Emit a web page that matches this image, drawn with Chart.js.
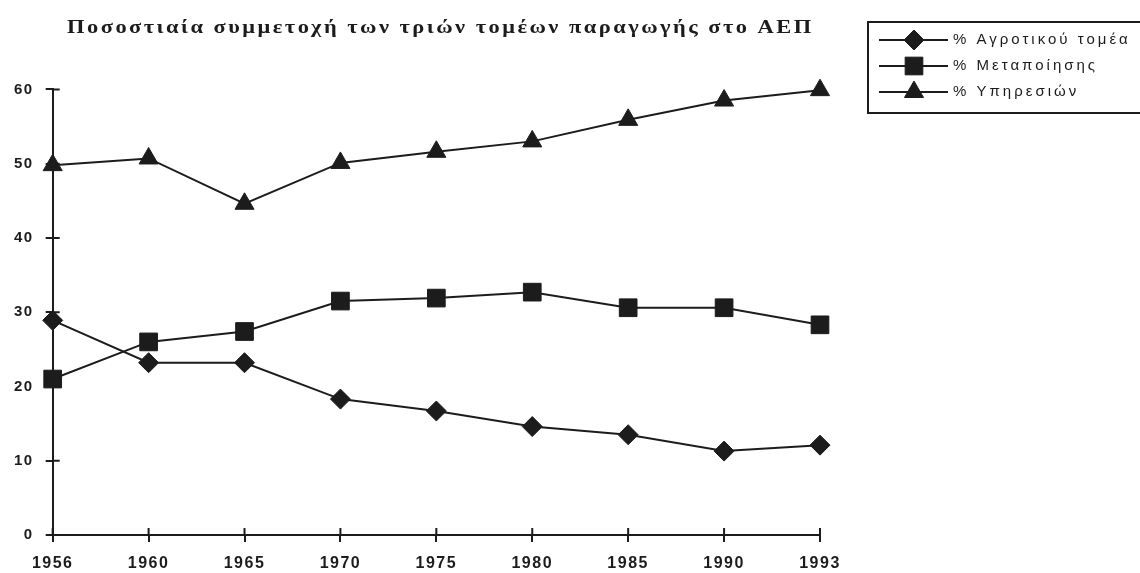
<!DOCTYPE html>
<html>
<head>
<meta charset="utf-8">
<script src="https://cdn.jsdelivr.net/npm/chart.js"></script>
<style>
  html, body { margin: 0; padding: 0; background: #fff; overflow: hidden; }
  #wrap { width: 1140px; height: 586px; }
</style>
</head>
<body>
<div id="wrap"><canvas id="chart"></canvas></div>
<script>
// data
const chartTitle = 'Ποσοστιαία συμμετοχή των τριών τομέων παραγωγής στο ΑΕΠ';
const years = ['1956', '1960', '1965', '1970', '1975', '1980', '1985', '1990', '1993'];
const seriesNames = ['% Αγροτικού τομέα', '% Μεταποίησης', '% Υπηρεσιών'];
const agriculture = [28.9, 23.2, 23.2, 18.3, 16.7, 14.6, 13.5, 11.3, 12.1];
const manufacturing = [21.0, 26.0, 27.4, 31.5, 31.9, 32.7, 30.6, 30.6, 28.3];
const services = [49.8, 50.7, 44.6, 50.1, 51.6, 53.0, 55.9, 58.5, 59.9];
const yTicks = [0, 10, 20, 30, 40, 50, 60];

const ink = '#1c1c1c';

function series(label, data, style, radius) {
    return {
        label: label,
        data: data,
        borderColor: ink,
        borderWidth: 2,
        backgroundColor: ink,
        pointStyle: style,
        pointRadius: radius,
        pointBackgroundColor: ink,
        pointBorderColor: ink,
        pointBorderWidth: 1,
        fill: false,
        clip: false,
        tension: 0
    };
}

// stretched, spaced title + letter spacing for the tick labels
const spacing = {
    id: 'spacing',
    afterInit(chart) {
        const tb = chart.titleBlock;
        const draw = tb.draw;
        tb.draw = function () {
            const ctx = this.ctx;
            const cx = (this.left + this.right) / 2;
            ctx.save();
            ctx.letterSpacing = '2px';
            ctx.translate(cx + 4, 0);
            ctx.scale(1.245, 1);
            ctx.translate(-cx, 0);
            draw.call(this);
            ctx.restore();
        };
    },
    beforeUpdate(chart) { chart.ctx.letterSpacing = '1.5px'; },
    beforeDraw(chart) { chart.ctx.letterSpacing = '1.5px'; }
};

// tick marks cross the axis lines
const crossTicks = {
    id: 'crossTicks',
    beforeDatasetsDraw(chart) {
        const {ctx, chartArea, scales: {x, y}} = chart;
        ctx.save();
        ctx.strokeStyle = ink;
        ctx.lineWidth = 2;
        ctx.beginPath();
        y.ticks.forEach(t => {
            const py = y.getPixelForValue(t.value);
            ctx.moveTo(chartArea.left, py);
            ctx.lineTo(chartArea.left + 7, py);
        });
        x.ticks.forEach((t, i) => {
            const px = x.getPixelForTick(i);
            ctx.moveTo(px, chartArea.bottom);
            ctx.lineTo(px, chartArea.bottom - 7);
        });
        ctx.stroke();
        ctx.restore();
    }
};

// boxed legend at the top right, running off the edge
const boxLegend = {
    id: 'boxLegend',
    afterDraw(chart) {
        const ctx = chart.ctx;
        const left = chart.chartArea.right + 48;
        const top = 22;
        ctx.save();
        ctx.letterSpacing = '3px';
        ctx.strokeStyle = ink;
        ctx.fillStyle = ink;
        ctx.lineWidth = 2;
        ctx.strokeRect(left, top, chart.width - left + 10, 91);
        ctx.font = '15px "Liberation Sans"';
        ctx.textBaseline = 'middle';
        ctx.textAlign = 'left';
        chart.data.datasets.forEach((ds, i) => {
            const cy = top + 18 + i * 26;
            ctx.lineWidth = 2;
            ctx.beginPath();
            ctx.moveTo(left + 11, cy);
            ctx.lineTo(left + 80, cy);
            ctx.stroke();
            ctx.lineWidth = 1;
            Chart.helpers.drawPoint(ctx, {
                pointStyle: ds.pointStyle, radius: ds.pointRadius, rotation: 0, borderWidth: 1
            }, left + 46, cy);
            ctx.fillText(ds.label, left + 85, cy);
        });
        ctx.restore();
    }
};

new Chart('chart', {
    type: 'line',
    data: {
        labels: years,
        datasets: [
            series(seriesNames[0], agriculture, 'rectRot', 10),
            series(seriesNames[1], manufacturing, 'rect', 12.5),
            series(seriesNames[2], services, 'triangle', 11)
        ]
    },
    plugins: [spacing, crossTicks, boxLegend],
    options: {
        responsive: true,
        maintainAspectRatio: false,
        animation: false,
        layout: {padding: {top: 14, left: 2, right: 320, bottom: 0}},
        plugins: {
            legend: {display: false},
            tooltip: {enabled: false},
            title: {
                display: true,
                text: chartTitle,
                fullSize: false,
                color: ink,
                font: {family: 'Liberation Serif', size: 18, weight: 'bold', lineHeight: 0.8},
                padding: {top: 7, bottom: 54}
            }
        },
        scales: {
            x: {
                grid: {drawOnChartArea: false, color: ink, lineWidth: 2, tickLength: 7},
                border: {color: ink, width: 2},
                ticks: {
                    color: ink, padding: 14, maxRotation: 0, autoSkip: false,
                    font: {family: 'Liberation Sans', size: 16, weight: 'bold', lineHeight: 1}
                }
            },
            y: {
                min: yTicks[0],
                max: yTicks[yTicks.length - 1],
                grid: {drawOnChartArea: false, color: ink, lineWidth: 2, tickLength: 7},
                border: {color: ink, width: 2},
                ticks: {
                    color: ink, padding: 12, stepSize: yTicks[1] - yTicks[0],
                    font: {family: 'Liberation Sans', size: 15, weight: 'bold', lineHeight: 1}
                }
            }
        }
    }
});
</script>
</body>
</html>
